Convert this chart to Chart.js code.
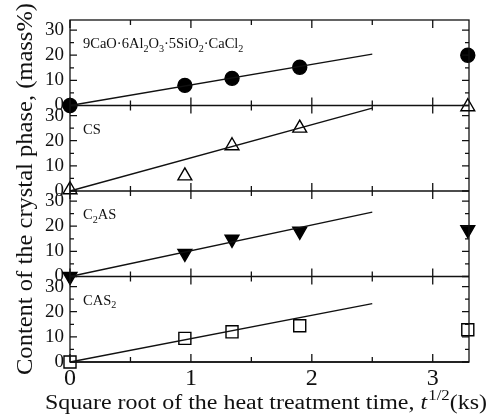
<!DOCTYPE html>
<html>
<head>
<meta charset="utf-8">
<script src="https://cdn.jsdelivr.net/npm/chart.js@4.4.0/dist/chart.umd.min.js"></script>
<style>
  html, body { margin: 0; padding: 0; background: #fff; }
  #wrap { width: 493px; height: 419px; }
</style>
</head>
<body>
<div id="wrap"><canvas id="chart"></canvas></div>
<script>
// square root of heat treatment time (ks^1/2)
const sqrtTime = [0, 0.95, 1.34, 1.9, 3.29];

// content of each crystal phase, mass%
const chlorideValues = [0, 8, 10.8, 15.2, 20];
const csValues = [0.5, 6, 18, 25, 33.5];
const c2asValues = [0, 9.2, 14.8, 18, 18.6];
const cas2Values = [0, 9.4, 12, 14.4, 12.8];

// fitted straight lines (start and end)
const fitTime = [0, 2.5];
const chlorideFit = [0, 20.4];
const csFit = [0, 33];
const c2asFit = [0, 25.6];
const cas2Fit = [0, 23.2];

const yTicks = [0, 10, 20, 30];
const xTicks = [0, 1, 2, 3];

// panel labels: [text, isSubscript] pieces
const panelLabels = [
  [['9CaO·6Al', 0], ['2', 1], ['O', 0], ['3', 1], ['·5SiO', 0], ['2', 1], ['·CaCl', 0], ['2', 1]],
  [['CS', 0]],
  [['C', 0], ['2', 1], ['AS', 0]],
  [['CAS', 0], ['2', 1]]
];

const panelAxes = ['y1', 'y2', 'y3', 'y4'];
const serif = '"Liberation Serif", "Times New Roman", serif';

function pts(xs, ys) {
  return xs.map((x, i) => ({ x: x, y: ys[i] }));
}

const markerSets = [
  { values: chlorideValues, style: 'circle', radius: 7, fill: '#000', rotation: 0 },
  { values: csValues, style: 'triangle', radius: 8, fill: '#fff', rotation: 0 },
  { values: c2asValues, style: 'triangle', radius: 8, fill: '#000', rotation: 180 },
  { values: cas2Values, style: 'rect', radius: 8.5, fill: '#fff', rotation: 0 }
];
const fitSets = [chlorideFit, csFit, c2asFit, cas2Fit];

const datasets = [];
fitSets.forEach((fit, i) => {
  datasets.push({
    data: pts(fitTime, fit),
    yAxisID: panelAxes[i],
    showLine: true,
    borderColor: '#111',
    borderWidth: 1.3,
    pointRadius: 0,
    clip: false
  });
});
markerSets.forEach((m, i) => {
  datasets.push({
    data: pts(sqrtTime, m.values),
    yAxisID: panelAxes[i],
    showLine: false,
    pointStyle: m.style,
    pointRadius: m.radius,
    pointRotation: m.rotation,
    pointBackgroundColor: m.fill,
    pointBorderColor: '#000',
    pointBorderWidth: 1.4,
    clip: false
  });
});

function yAxis() {
  return {
    type: 'linear',
    position: 'left',
    stack: 'panels',
    stackWeight: 1,
    min: 0,
    max: 34,
    afterBuildTicks: s => { s.ticks = yTicks.map(v => ({ value: v })); },
    afterFit: s => { s.width = 70; },
    grid: { display: false, drawTicks: false },
    border: { display: false },
    ticks: {
      padding: 6,
      autoSkip: false,
      color: '#111',
      font: { family: serif, size: 19 }
    }
  };
}

function drawRich(ctx, pieces, x, y, size) {
  pieces.forEach(([t, sub]) => {
    ctx.font = (sub ? size * 0.7 : size) + 'px ' + serif;
    ctx.fillText(t, x, sub ? y + size * 0.25 : y);
    x += ctx.measureText(t).width;
  });
}

// draw a run of pieces squeezed/stretched to a given length
function drawFitted(ctx, pieces, x, y, length) {
  let w = 0;
  pieces.forEach(p => { ctx.font = p.font; w += ctx.measureText(p.text).width + (p.gap || 0); });
  ctx.save();
  ctx.translate(x, y);
  ctx.scale(length / w, 1);
  let cx = 0;
  pieces.forEach(p => {
    ctx.font = p.font;
    ctx.fillText(p.text, cx, p.dy || 0);
    cx += ctx.measureText(p.text).width + (p.gap || 0);
  });
  ctx.restore();
}

const framePlugin = {
  id: 'frame',
  afterDatasetsDraw(chart) {
    const ctx = chart.ctx;
    const a = chart.chartArea;
    const xs = chart.scales.x;
    ctx.save();
    ctx.strokeStyle = '#111';
    ctx.lineWidth = 1.3;
    ctx.strokeRect(a.left, a.top, a.right - a.left, a.bottom - a.top);

    const halfSteps = [0, 0.5, 1, 1.5, 2, 2.5, 3];
    panelAxes.forEach((id, i) => {
      const s = chart.scales[id];
      // panel boundary
      ctx.beginPath();
      ctx.moveTo(a.left, s.bottom);
      ctx.lineTo(a.right, s.bottom);
      ctx.stroke();
      // y ticks, inward on both sides
      [0, 5, 10, 15, 20, 25, 30].forEach(v => {
        const py = s.getPixelForValue(v);
        const len = v % 10 === 0 ? 7 : 4;
        ctx.beginPath();
        ctx.moveTo(a.left, py); ctx.lineTo(a.left + len, py);
        ctx.moveTo(a.right, py); ctx.lineTo(a.right - len, py);
        ctx.stroke();
      });
      // x ticks on the panel bottom
      halfSteps.forEach(v => {
        const px = xs.getPixelForValue(v);
        const len = Number.isInteger(v) ? 8 : 5;
        ctx.beginPath();
        ctx.moveTo(px, s.bottom - len);
        ctx.lineTo(px, i < 3 ? s.bottom + len : s.bottom);
        if (i === 0) {
          ctx.moveTo(px, s.top);
          ctx.lineTo(px, s.top + len);
        }
        ctx.stroke();
      });
      // panel label
      ctx.fillStyle = '#111';
      ctx.textBaseline = 'alphabetic';
      ctx.textAlign = 'left';
      drawRich(ctx, panelLabels[i], a.left + 13, s.top + 28, 14.5);
    });

    // x axis title
    ctx.fillStyle = '#111';
    ctx.textAlign = 'left';
    drawFitted(ctx, [
      { text: 'Square root of the heat treatment time, ', font: '20px ' + serif },
      { text: 't', font: 'italic 20px ' + serif, gap: 1 },
      { text: '1/2', font: '14px ' + serif, dy: -9 },
      { text: '(ks)', font: '20px ' + serif }
    ], 45, 409, 442);

    // y axis title
    ctx.translate(32, 375);
    ctx.rotate(-Math.PI / 2);
    drawFitted(ctx, [
      { text: 'Content of the crystal phase, (mass%)', font: '24px ' + serif }
    ], 0, 0, 372);
    ctx.restore();
  }
};

new Chart(document.getElementById('chart'), {
  type: 'scatter',
  data: { datasets: datasets },
  options: {
    responsive: true,
    maintainAspectRatio: false,
    animation: false,
    layout: { padding: { top: 20, right: 24, left: 0, bottom: 0 } },
    plugins: { legend: { display: false }, tooltip: { enabled: false } },
    scales: {
      x: {
        type: 'linear',
        min: 0,
        max: 3.3,
        afterBuildTicks: s => { s.ticks = xTicks.map(v => ({ value: v })); },
        afterFit: s => { s.height = 57; },
        grid: { display: false, drawTicks: false },
        border: { display: false },
        ticks: {
          padding: 2,
          autoSkip: false,
          color: '#111',
          font: { family: serif, size: 24 },
          maxRotation: 0
        }
      },
      // stacked axes are placed bottom-up in definition order
      y4: yAxis(),
      y3: yAxis(),
      y2: yAxis(),
      y1: yAxis()
    }
  },
  plugins: [framePlugin]
});
</script>
</body>
</html>
